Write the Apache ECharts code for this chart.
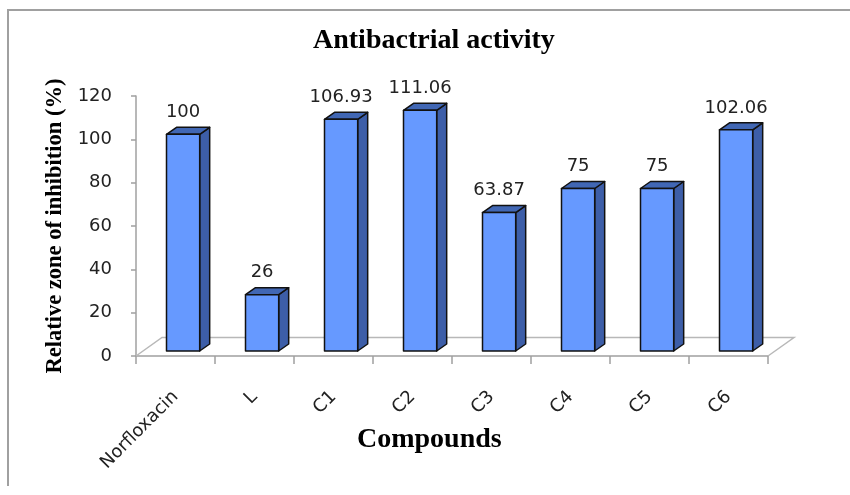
<!DOCTYPE html>
<html>
<head>
<meta charset="utf-8">
<script src="https://cdn.jsdelivr.net/npm/echarts@6/dist/echarts.min.js"></script>
<style>
  html, body { margin: 0; padding: 0; background: #ffffff; }
  #chart { width: 850px; height: 495px; }
</style>
</head>
<body>
<div id="chart"></div>
<script>
// Compounds tested and their relative zone of inhibition (%)
const compounds = ['Norfloxacin', 'L', 'C1', 'C2', 'C3', 'C4', 'C5', 'C6'];
const inhibition = [100, 26, 106.93, 111.06, 63.87, 75, 75, 102.06];
const valueTicks = { min: 0, max: 120, interval: 20 };

const chartTitle = 'Antibactrial activity';
const xTitle = 'Compounds';
const yTitle = 'Relative zone of inhibition (%)';

// pseudo-3D look: depth offsets for the floor and for each column
const FLOOR_DX = 26, FLOOR_DY = -18.5;
const BAR_DX = 10, BAR_DY = -7;
const BAR_SHIFT_X = -9, BAR_SHIFT_Y = -5;

const FRONT = '#6699ff', SIDE = '#3d5ea8', TOP = '#4167b4', EDGE = '#111111';
const LABEL_FONT = '18px "DejaVu Sans", Verdana, sans-serif';

const chart = echarts.init(document.getElementById('chart'), null, { renderer: 'canvas' });

function renderFloor(params, api) {
  const bw = api.size([1, 0])[0];
  const a = api.coord([0, 0]);
  const b = api.coord([compounds.length - 1, 0]);
  const xl = a[0] - bw / 2, xr = b[0] + bw / 2, y = a[1];
  const style = { stroke: '#b8b8b8', lineWidth: 1.5, fill: null };
  return {
    type: 'group',
    children: [
      { type: 'polyline', shape: { points: [[xl, y], [xl + FLOOR_DX, y + FLOOR_DY], [xr + FLOOR_DX, y + FLOOR_DY], [xr, y]] }, style: style }
    ]
  };
}

function renderColumn(params, api) {
  const idx = api.value(0);
  const v = api.value(1);
  const base = api.coord([idx, 0]);
  const top = api.coord([idx, v]);
  const bw = api.size([1, 0])[0];
  const w = bw * 0.42;
  const x0 = base[0] + BAR_SHIFT_X;
  const x1 = x0 + w;
  const yb = base[1] + BAR_SHIFT_Y;
  const yt = top[1] + BAR_SHIFT_Y;
  const ls = { stroke: EDGE, lineWidth: 1.5, lineJoin: 'round' };
  return {
    type: 'group',
    children: [
      { type: 'polygon', shape: { points: [[x1, yb], [x1 + BAR_DX, yb + BAR_DY], [x1 + BAR_DX, yt + BAR_DY], [x1, yt]] },
        style: Object.assign({ fill: SIDE }, ls) },
      { type: 'polygon', shape: { points: [[x0, yt], [x1, yt], [x1 + BAR_DX, yt + BAR_DY], [x0 + BAR_DX, yt + BAR_DY]] },
        style: Object.assign({ fill: TOP }, ls) },
      { type: 'rect', shape: { x: x0, y: yt, width: w, height: yb - yt },
        style: Object.assign({ fill: FRONT }, ls) },
      { type: 'text', style: { text: String(inhibition[idx]), x: (x0 + x1) / 2, y: yt + BAR_DY - 6,
        align: 'center', verticalAlign: 'bottom', font: LABEL_FONT, fill: '#222222' } }
    ]
  };
}

const option = {
  animation: false,
  backgroundColor: '#ffffff',
  grid: { left: 136, right: 82, top: 96, bottom: 139, containLabel: false },
  xAxis: {
    type: 'category',
    data: compounds,
    boundaryGap: true,
    axisLine: { lineStyle: { color: '#a0a0a0', width: 1.5 } },
    axisTick: { show: true, length: 8, lineStyle: { color: '#a0a0a0', width: 1.5 } },
    axisLabel: { rotate: 45, margin: 38, color: '#222222', fontSize: 18, fontFamily: 'DejaVu Sans' },
    splitLine: { show: false }
  },
  yAxis: {
    type: 'value',
    min: valueTicks.min, max: valueTicks.max, interval: valueTicks.interval,
    name: yTitle,
    nameLocation: 'middle',
    nameRotate: 90,
    nameGap: 66,
    nameTextStyle: { fontFamily: 'Liberation Serif', fontWeight: 'bold', fontSize: 22.5, color: '#000000' },
    axisLine: { show: true, lineStyle: { color: '#a0a0a0', width: 1.5 } },
    axisTick: { show: true, length: 5, lineStyle: { color: '#a0a0a0', width: 1.5 } },
    axisLabel: { margin: 24, color: '#222222', fontSize: 18, fontFamily: 'DejaVu Sans' },
    splitLine: { show: false }
  },
  graphic: [
    { type: 'polyline', z: -1, silent: true,
      shape: { points: [[8, 486], [8, 10], [851, 10]] },
      style: { stroke: '#a0a0a0', lineWidth: 2, fill: null } },
    { type: 'text', left: 313, top: 27, silent: true,
      style: { text: chartTitle, font: 'bold 28px "Liberation Serif", serif', fill: '#000000' } },
    { type: 'text', left: 357, top: 426, silent: true,
      style: { text: xTitle, font: 'bold 28px "Liberation Serif", serif', fill: '#000000' } }
  ],
  series: [
    { type: 'custom', z: 1, renderItem: renderFloor, data: [[0]], silent: true },
    { type: 'custom', z: 2, renderItem: renderColumn,
      data: inhibition.map((v, i) => [i, v]), encode: { x: 0, y: 1 }, silent: true }
  ]
};

chart.setOption(option);
</script>
</body>
</html>
